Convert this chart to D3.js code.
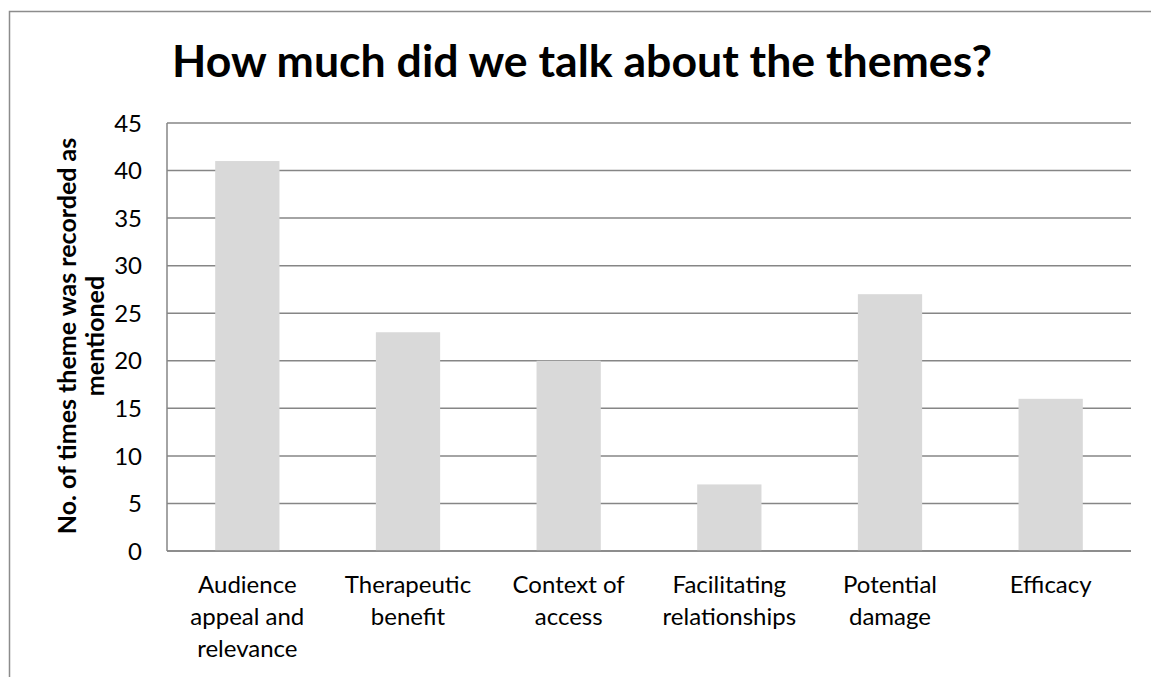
<!DOCTYPE html>
<html><head><meta charset="utf-8">
<script src="https://cdn.jsdelivr.net/npm/d3@7"></script>
<style>html,body{margin:0;padding:0;background:#fff;}svg{display:block;}</style>
</head><body>
<script>
const categories = [["Audience","appeal and","relevance"],["Therapeutic","benefit"],["Context of","access"],["Facilitating","relationships"],["Potential","damage"],["Efficacy"]];
const values = [41, 23, 20, 7, 27, 16];
const yTicks = [0,5,10,15,20,25,30,35,40,45];
const title = "How much did we talk about the themes?";
const yTitle = ["No. of times theme was recorded as","mentioned"];

const W = 1151, H = 677;
const font = "Lato, 'Open Sans', sans-serif";
const svg = d3.select("body").append("svg").attr("width", W).attr("height", H);
svg.append("rect").attr("width", W).attr("height", H).attr("fill", "#fff");
// outer chart border
svg.append("rect").attr("x", 9.5).attr("y", 11.5).attr("width", 1160).attr("height", 700)
  .attr("fill", "none").attr("stroke", "#8c8c8c").attr("stroke-width", 1.5);

const m = {left:167, right:1131, top:123, bottom:551};
const x = d3.scaleBand().domain(d3.range(values.length)).range([m.left, m.right]).paddingInner(0.6).paddingOuter(0.3);
const y = d3.scaleLinear().domain([0,45]).range([m.bottom, m.top]);

// gridlines
svg.append("g").selectAll("line").data(yTicks).join("line")
  .attr("x1", m.left).attr("x2", m.right)
  .attr("y1", d=>y(d)).attr("y2", d=>y(d))
  .attr("stroke", "#868686").attr("stroke-width", 1.5);

// bars
svg.append("g").selectAll("rect").data(values).join("rect")
  .attr("x", (d,i)=>x(i)).attr("width", x.bandwidth())
  .attr("y", d=>y(d)).attr("height", d=>y(0)-y(d))
  .attr("fill", "#d9d9d9");

// axes lines
svg.append("line").attr("x1", m.left).attr("x2", m.left).attr("y1", m.top).attr("y2", m.bottom)
  .attr("stroke", "#868686").attr("stroke-width", 1.5);
svg.append("line").attr("x1", m.left).attr("x2", m.right).attr("y1", m.bottom).attr("y2", m.bottom)
  .attr("stroke", "#868686").attr("stroke-width", 1.5);

// y tick labels
svg.append("g").selectAll("text").data(yTicks).join("text")
  .attr("x", 142).attr("y", d=>y(d)).attr("dy", "0.36em")
  .attr("text-anchor", "end").attr("font-family", font).attr("font-size", 24)
  .attr("fill", "#000").text(d=>d);

// x category labels
const step = (m.right - m.left) / values.length;
const cat = svg.append("g").selectAll("text").data(categories).join("text")
  .attr("text-anchor", "middle").attr("font-family", font).attr("font-size", 24).attr("fill", "#000");
cat.each(function(lines, i){
  const cx = m.left + step*(i+0.5);
  d3.select(this).selectAll("tspan").data(lines).join("tspan")
    .attr("x", cx).attr("y", (d,j)=>593 + j*32).text(d=>d);
});

// title
svg.append("text").attr("x", 582).attr("y", 77).attr("text-anchor", "middle")
  .attr("font-family", font).attr("font-weight", "bold").attr("font-size", 43).attr("fill", "#000")
  .attr("textLength", 820).attr("lengthAdjust", "spacingAndGlyphs")
  .text(title);

// y axis title
const yt = svg.append("text").attr("transform", "translate(0,336) rotate(-90)")
  .attr("text-anchor", "middle").attr("font-family", font).attr("font-weight", "bold")
  .attr("font-size", 25).attr("fill", "#000");
yt.selectAll("tspan").data(yTitle).join("tspan").attr("x", 0).attr("y", (d,i)=>76 + i*28).text(d=>d);
</script>
</body></html>
